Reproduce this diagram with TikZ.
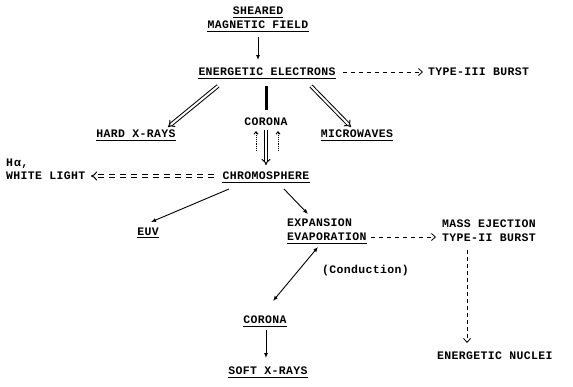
\documentclass[tikz,border=0pt]{standalone}
\usepackage{fontspec}
\setmainfont{Liberation Mono}[LetterSpace=3]
\usetikzlibrary{arrows.meta}
\begin{document}
\begin{tikzpicture}[x=1pt,y=-1pt,
  every node/.style={font=\fontsize{11.5}{13}\selectfont\bfseries, inner xsep=0pt, inner ysep=2pt, text depth=0pt},
  ul/.style={append after command={(\tikzlastnode.south west) edge[draw, line width=1pt] (\tikzlastnode.south east)}},
  arr/.style={line width=0.9pt, -{Latex[length=5pt,width=4pt]}},
  dbl/.style={double, line width=1pt, double distance=2pt, -{Implies}},
  dsh/.style={line width=0.8pt, dash pattern=on 4pt off 4pt, -{Straight Barb[length=4pt,width=7pt]}},
  dot/.style={line width=0.9pt, densely dotted, -{Straight Barb[length=2.5pt,width=4pt]}}]
\useasboundingbox (0,0) rectangle (573,386);

\node[ul] (sh) at (258,11) {SHEARED};
\node[ul] (mf) at (258,25) {MAGNETIC FIELD};
\node[ul] (ee) at (267,72) {ENERGETIC ELECTRONS};
\node[anchor=west] (t3) at (428,72) {TYPE-III BURST};
\node[ul] (hx) at (136,134) {HARD X-RAYS};
\node (c1) at (266,122) {CORONA};
\node[ul] (mw) at (357,134) {MICROWAVES};
\node[anchor=west] (ha) at (6,163) {H\kern1pt α,};
\node[anchor=west] (wl) at (6,176) {WHITE LIGHT};
\node[ul] (ch) at (266,176) {CHROMOSPHERE};
\node[ul] (euv) at (148,232) {EUV};
\node[anchor=west] (ex) at (287,223) {EXPANSION};
\node[anchor=west, ul] (ev) at (287,237) {EVAPORATION};
\node[anchor=west] (me) at (442,224) {MASS EJECTION};
\node[anchor=west] (t2) at (442,238) {TYPE-II BURST};
\node[anchor=west] (cd) at (322,269) {(Conduction)};
\node[anchor=west] (en) at (437,356) {ENERGETIC NUCLEI};
\node[ul] (c2) at (265,320) {CORONA};
\node[ul] (sx) at (268,371) {SOFT X-RAYS};

\coordinate (a1) at (258,37);
\coordinate (a2) at (258,60);
\draw[arr] (a1) -- (a2);
\coordinate (b1) at (343,72);
\coordinate (b2) at (423,72);
\draw[dsh] (b1) -- (b2);
\coordinate (h1) at (218,86);
\coordinate (h2) at (168,127);
\draw[dbl] (h1) -- (h2);
\coordinate (m1) at (311,86);
\coordinate (m2) at (351,127);
\draw[dbl] (m1) -- (m2);
\coordinate (k1) at (266,86);
\coordinate (k2) at (266,110);
\draw[line width=3pt] (k1) -- (k2);
\coordinate (d1) at (266,130);
\coordinate (d2) at (266,165);
\draw[dbl] (d1) -- (d2);
\coordinate (p1) at (256,151);
\coordinate (p2) at (256,131);
\draw[dot] (p1) -- (p2);
\coordinate (q1) at (278,151);
\coordinate (q2) at (278,131);
\draw[dot] (q1) -- (q2);
\coordinate (w1) at (214,176);
\coordinate (w2) at (91,176);
\draw[dbl, dash pattern=on 6pt off 5pt] (w1) -- (w2);
\coordinate (e1) at (229,189);
\coordinate (e2) at (151,222);
\draw[arr] (e1) -- (e2);
\coordinate (x1) at (284,189);
\coordinate (x2) at (308,214);
\draw[arr] (x1) -- (x2);
\coordinate (y1) at (371,237);
\coordinate (y2) at (436,237);
\draw[dsh] (y1) -- (y2);
\coordinate (z1) at (467,250);
\coordinate (z2) at (467,343);
\draw[dsh, dash pattern=on 4pt off 3pt] (z1) -- (z2);
\coordinate (c1a) at (273,301);
\coordinate (c1b) at (318,247);
\draw[line width=0.9pt, {Latex[length=5pt,width=4pt]}-{Latex[length=5pt,width=4pt]}] (c1a) -- (c1b);
\coordinate (s1) at (266,330);
\coordinate (s2) at (266,358);
\draw[arr] (s1) -- (s2);
\end{tikzpicture}
\end{document}
